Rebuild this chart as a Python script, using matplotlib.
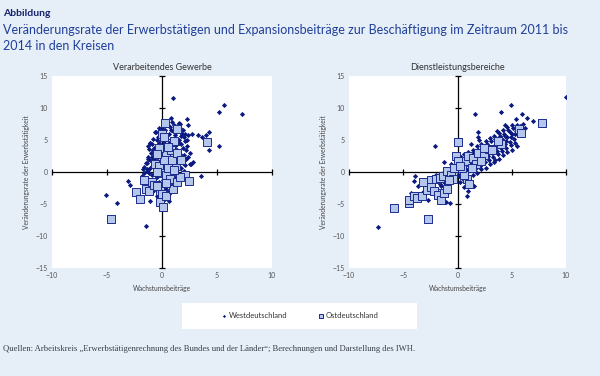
import numpy as np
import matplotlib.pyplot as plt

# ---- data ----
# Verarbeitendes Gewerbe, Westdeutschland
west_man = [
    (0.97, 11.6), (5.6, 10.4), (5.15, 9.3), (7.3, 9.0), (0.85, 8.5), (2.3, 8.3), (2.35, 7.3), (1.5, 7.6),
    (3.3, 5.8), (3.6, 5.5), (4.0, 5.8), (4.3, 6.2), (2.7, 5.9), (4.3, 3.5), (5.2, 4.0), (2.8, 1.6),
    (2.5, 1.2), (2.1, 1.1), (3.5, -0.6), (-3.1, -1.4), (-2.95, -2.0), (-5.05, -3.6), (-4.05, -4.8),
    (-1.5, -8.5), (-1.05, -4.6), (-0.55, 6.3), (-1.05, 4.5), (-1.3, 2.0), (-1.35, 1.4), (-1.75, 0.4),
    (-1.8, -0.6), (-1.35, 0.5),
    (-0.9, 4.4), (-0.7, 3.8), (-0.5, 5.0), (-0.3, 4.6), (0.0, 5.3), (0.2, 4.8), (0.4, 5.6), (0.6, 6.0),
    (0.8, 5.2), (1.0, 6.4), (1.2, 5.8), (1.4, 7.2), (1.6, 6.8), (1.8, 6.0), (2.0, 5.4), (0.7, 7.0),
    (0.9, 7.8), (1.1, 7.4), (1.5, 5.0), (1.7, 4.4), (2.1, 4.8), (2.3, 4.0), (2.5, 3.0), (2.2, 3.4),
    (1.9, 3.7), (1.3, 4.2), (1.0, 4.6), (0.5, 4.1), (0.3, 3.6), (0.1, 3.1), (-0.1, 3.8), (-0.4, 3.2),
    (-0.6, 2.9), (-0.8, 3.4), (-1.0, 3.0), (-1.2, 3.6), (-0.9, 2.4), (-0.7, 2.0), (-0.5, 2.4), (-0.2, 2.7),
    (0.2, 2.2), (0.4, 2.9), (0.6, 3.3), (0.8, 2.6), (1.0, 3.0), (1.2, 2.4), (1.4, 3.5), (1.6, 2.8),
    (1.8, 2.2), (2.0, 2.6), (2.2, 2.0), (1.5, 1.8), (1.1, 1.6), (0.7, 1.4), (0.3, 1.0), (-0.1, 1.4),
    (-0.4, 1.7), (-0.8, 1.2), (-1.1, 1.8), (-1.3, 2.4), (-1.0, 0.8), (-0.6, 0.5), (-0.3, 0.2), (0.1, 0.6),
    (0.5, 0.3), (0.9, 0.8), (1.3, 1.0), (1.7, 0.6), (2.0, 0.2), (1.4, -0.2), (1.0, -0.4), (0.6, -0.1),
    (0.2, -0.6), (-0.2, -0.3), (-0.5, -0.8), (-0.9, -0.5), (-1.2, -0.2), (-1.4, 0.2), (-0.7, -1.3),
    (-0.3, -1.6), (0.1, -1.2), (0.5, -1.9), (0.9, -1.5), (1.2, -1.0), (1.6, -0.9), (-0.4, -2.4),
    (0.0, -2.1), (0.4, -2.6), (0.8, -2.2), (-0.8, -2.9), (-0.2, -3.3), (0.2, -3.0), (0.6, -3.4),
    (-0.5, -3.8), (0.3, -4.2), (0.6, -4.5), (-0.1, -4.4), (0.5, -3.2), (0.9, -2.9), (1.1, -2.4),
    (-1.3, 4.0), (-1.1, 4.6), (-0.6, 6.2), (-0.2, 5.8), (0.3, 6.6), (0.5, 7.4), (0.0, 6.8), (1.3, 6.2),
    (1.7, 5.6), (2.1, 6.0), (2.3, 5.0), (1.2, 5.0), (0.9, 4.2), (0.6, 4.6), (-0.3, 4.0), (-0.8, 5.2),
    (2.4, 2.4), (2.6, 1.2), (1.9, 1.4), (-1.6, 0.8), (-1.5, 1.4), (-1.2, 0.4), (-1.6, -0.2), (-1.4, -1.0),
    (-1.1, -1.6), (-0.9, -2.0), (-1.2, -2.6), (0.4, 3.9), (0.7, 2.2), (1.1, 3.8), (1.5, 4.6), (0.2, 4.5),
    (-0.4, 5.5), (0.8, 6.6), (1.6, 7.5), (1.9, 6.6), (2.4, 5.8), (-0.3, 6.9), (0.1, 7.8), (0.4, 8.0),
]
# Verarbeitendes Gewerbe, Ostdeutschland
east_man = [
    (-4.6, -7.3), (-2.4, -3.2), (-2.0, -4.2), (-1.6, -1.2), (-1.45, -2.6), (-1.15, -2.95), (-0.9, -1.6),
    (-0.2, -3.0), (-0.15, -4.7), (0.1, -5.4), (0.0, -3.5), (0.35, -3.7), (0.97, -2.6), (2.05, -0.4),
    (2.45, -1.45), (4.05, 4.7), (0.3, 7.6), (0.0, 6.0), (1.06, 4.9), (1.4, 6.7), (0.36, 2.8), (-0.65, 1.2),
    (-0.25, 0.9), (0.0, -0.1), (0.4, -0.4), (0.75, -1.1), (1.4, -1.6), (1.6, -0.8), (1.1, 2.5), (1.25, 0.9),
    (0.55, 0.6), (0.8, 3.5), (0.9, 1.9), (0.15, 1.8), (-0.3, 3.7), (-0.5, 2.8), (-0.75, -2.0), (-0.45, -2.2),
    (0.4, -1.7), (0.15, 5.4), (1.4, 3.0), (1.7, 1.9), (0.55, 3.9), (-0.45, 0.0), (1.1, 0.35),
]
# Dienstleistungsbereiche, Westdeutschland
west_srv = [
    (10.0, 11.7), (4.9, 10.5), (4.0, 9.3), (1.65, 9.05), (6.4, 8.5), (7.0, 7.9), (5.9, 9.0), (5.4, 8.3),
    (-2.05, 4.0), (-7.3, -8.6), (-3.95, -0.7), (-4.0, -1.4), (-4.3, -3.3), (-2.7, -4.3), (-1.1, -4.7),
    (-0.7, -4.9), (0.85, -3.7), (1.55, -2.25), (3.5, 1.9), (5.45, 4.1), (1.85, 5.4), (1.85, 6.2),
    (-3.0, -1.8), (-2.8, -2.4), (-2.6, -1.5), (-2.4, -2.0), (-2.2, -1.4), (-2.0, -2.6), (-1.8, -1.2),
    (-1.6, -1.9), (-1.4, -0.8), (-1.2, -1.5), (-1.0, -0.6), (-0.8, -1.2), (-0.6, -0.2), (-0.4, -0.8),
    (-0.2, 0.3), (0.0, -0.4), (0.2, 0.6), (0.4, 0.0), (0.6, 1.0), (0.8, 0.4), (1.0, 1.4), (1.2, 0.8),
    (1.4, 1.8), (1.6, 1.2), (1.8, 2.3), (2.0, 1.6), (2.2, 2.7), (2.4, 2.0), (2.6, 3.1), (2.8, 2.5),
    (3.0, 3.6), (3.2, 2.9), (3.4, 4.0), (3.6, 3.3), (3.8, 4.5), (4.0, 3.8), (4.2, 5.0), (4.4, 4.3),
    (4.6, 5.4), (4.8, 4.7), (5.0, 5.9), (5.2, 5.2), (5.4, 6.4), (5.6, 5.8), (5.8, 6.8), (6.0, 6.3),
    (-2.9, -1.2), (-2.5, -0.9), (-2.1, -0.7), (-1.7, -0.4), (-1.3, -0.1), (-0.9, 0.2), (-0.5, 0.6),
    (-0.1, 1.0), (0.3, 1.5), (0.7, 2.0), (1.1, 2.4), (1.5, 2.9), (1.9, 3.4), (2.3, 3.9), (2.7, 4.3),
    (3.1, 4.8), (3.5, 5.2), (3.9, 5.7), (4.3, 6.0), (4.7, 6.5), (5.1, 6.9), (5.5, 7.3),
    (-2.3, -3.0), (-1.9, -2.6), (-1.5, -2.2), (-1.1, -1.9), (-0.7, -1.5), (-0.3, -1.1), (0.1, -0.7),
    (0.5, -0.4), (0.9, 0.0), (1.3, 0.3), (1.7, 0.7), (2.1, 1.0), (2.5, 1.5), (2.9, 1.9), (3.3, 2.3),
    (3.7, 2.8), (4.1, 3.3), (4.5, 3.7), (4.9, 4.2), (5.3, 4.6),
    (-1.5, -1.0), (-1.1, -0.7), (-0.7, -0.3), (-0.3, 0.1), (0.1, 0.3), (0.5, 0.9), (0.9, 1.3), (1.3, 1.6),
    (1.7, 2.0), (2.1, 2.4), (2.5, 2.8), (2.9, 3.2), (3.3, 3.6), (3.7, 4.0), (4.1, 4.5), (4.5, 4.9),
    (4.9, 5.5), (5.3, 5.9), (5.7, 6.2),
    (0.0, 2.0), (0.3, 2.4), (0.6, 2.8), (1.0, 3.2), (1.4, 3.5), (1.8, 4.1), (2.2, 4.4), (2.6, 4.9),
    (3.0, 5.3), (3.4, 5.7), (3.8, 6.1), (4.2, 6.6), (4.6, 7.0), (5.0, 7.4), (4.4, 7.3), (3.6, 6.4),
    (2.0, 5.0), (1.2, 4.3),
    (0.2, -1.5), (0.6, -1.2), (1.0, -0.8), (1.4, -0.5), (1.8, -0.1), (2.2, 0.4), (2.6, 0.7), (3.0, 1.2),
    (3.4, 1.6), (3.8, 2.0), (4.2, 2.6), (4.6, 3.1), (5.0, 3.5),
    (-3.4, -1.9), (-3.6, -2.2), (-4.0, -3.5), (-3.2, -3.1), (-1.3, -4.5), (-0.9, -3.1), (0.6, -2.3),
    (1.0, -3.0), (-1.2, 1.5), (-0.6, 1.3), (-2.0, -0.5), (6.2, 6.8), (6.0, 7.5), (5.8, 7.2), (4.8, 6.2),
    (4.4, 5.6),
]
# Dienstleistungsbereiche, Ostdeutschland
east_srv = [
    (-5.85, -5.6), (-2.7, -7.3), (-4.5, -4.8), (-4.45, -4.3), (-4.0, -3.8), (-3.7, -4.1), (-3.3, -3.8),
    (-3.15, -1.6), (-2.85, -2.8), (-2.45, -1.25), (-2.45, -2.3), (-2.15, -3.0), (-1.8, -3.6), (-1.55, -4.3),
    (-1.2, -3.25), (-0.95, -2.6), (-2.0, -1.15), (-1.6, -0.9), (-1.3, -0.6), (-0.95, 0.15), (-0.6, -0.4),
    (0.0, 4.7), (-0.15, 2.5), (0.9, -1.15), (1.05, -1.8), (0.6, -0.4), (0.45, 0.55), (0.0, 1.7), (0.75, 1.7),
    (1.0, 2.5), (1.4, 2.25), (1.7, 1.2), (1.9, 2.9), (2.4, 2.6), (2.9, 3.55), (3.15, 3.4), (4.0, 4.45),
    (3.7, 4.9), (5.7, 6.7), (5.85, 6.1), (7.75, 7.6), (-0.45, -1.15), (-0.75, -1.3), (-0.3, 0.55),
    (0.25, 0.95), (1.3, 0.7), (2.45, 3.8), (2.15, 1.7),
]

panels = ["Verarbeitendes Gewerbe", "Dienstleistungsbereiche"]
series_names = ["Westdeutschland", "Ostdeutschland"]
ticks_x = [-10, -5, 0, 5, 10]
ticks_y = [-15, -10, -5, 0, 5, 10, 15]

bg = "#e6eef8"
navy = "#0a1a80"
sq_face = "#b4c6ec"
sq_edge = "#1c2c8c"

fig = plt.figure(figsize=(6, 3.76), dpi=100, facecolor=bg)
plt.rcParams['font.family'] = ['Lato', 'DejaVu Sans']

fig.text(3/600, 1-13/376, "Abbildung", fontsize=7.5, fontweight='bold', color="#16226e", va='center')
fig.text(3/600, 1-30/376, "Veränderungsrate der Erwerbstätigen und Expansionsbeiträge zur Beschäftigung im Zeitraum 2011 bis",
         fontsize=9.0, color="#1f3f9a", va='center')
fig.text(3/600, 1-46/376, "2014 in den Kreisen", fontsize=9.0, color="#1f3f9a", va='center')

boxes = [[52/600, 1-268/376, 220/600, 192/376], [349/600, 1-268/376, 217/600, 192/376]]
data = [(west_man, east_man), (west_srv, east_srv)]

for box, title, (west, east) in zip(boxes, panels, data):
    ax = fig.add_axes(box)
    ax.set_facecolor('white')
    for s in ax.spines.values():
        s.set_visible(False)
    ax.set_xlim(-10, 10)
    ax.set_ylim(-15, 15)
    ax.axhline(0, color='black', lw=0.9, zorder=1)
    ax.axvline(0, color='black', lw=0.9, zorder=1)
    # tick marks crossing the zero lines
    ax.scatter(ticks_x, [0]*len(ticks_x), marker='|', s=18, color='black', lw=0.9, zorder=1, clip_on=False)
    ax.scatter([0]*len(ticks_y), ticks_y, marker='_', s=18, color='black', lw=0.9, zorder=1, clip_on=False)
    ax.set_xticks(ticks_x)
    ax.set_yticks(ticks_y)
    ax.tick_params(length=0, labelsize=5, labelcolor='#555555', pad=3)
    wx, wy = zip(*west)
    ex, ey = zip(*east)
    ax.scatter(wx, wy, marker='D', s=7, color=navy, lw=0, zorder=2, label=series_names[0])
    ax.scatter(ex, ey, marker='s', s=26, facecolor=sq_face, edgecolor=sq_edge, lw=0.7, zorder=3,
               label=series_names[1])
    ax.set_title(title, fontsize=6.5, color='#333333', pad=4)
    ax.set_xlabel("Wachstumsbeiträge", fontsize=4.8, color='#444444', labelpad=4)
    ax.set_ylabel("Veränderungsrate der Erwerbstätigkeit", fontsize=4.8, color='#444444', labelpad=4)

handles, labels = ax.get_legend_handles_labels()
lax = fig.add_axes([182/600, 1-329/376, 235/600, 26/376])
lax.set_facecolor('white')
lax.set_xticks([])
lax.set_yticks([])
for s in lax.spines.values():
    s.set_visible(False)
lax.legend(handles, labels, loc='center', ncol=2, frameon=False, fontsize=5.5, columnspacing=4,
           handletextpad=0.1, handlelength=1.0, markerscale=0.6, labelcolor='#333333')

fig.text(3/600, 1-349/376,
         "Quellen: Arbeitskreis „Erwerbstätigenrechnung des Bundes und der Länder“; Berechnungen und Darstellung des IWH.",
         fontsize=6.2, color='#3a3f4a', family=['Liberation Serif'], va='center')

fig.savefig("out.png", dpi=100, facecolor=bg)
